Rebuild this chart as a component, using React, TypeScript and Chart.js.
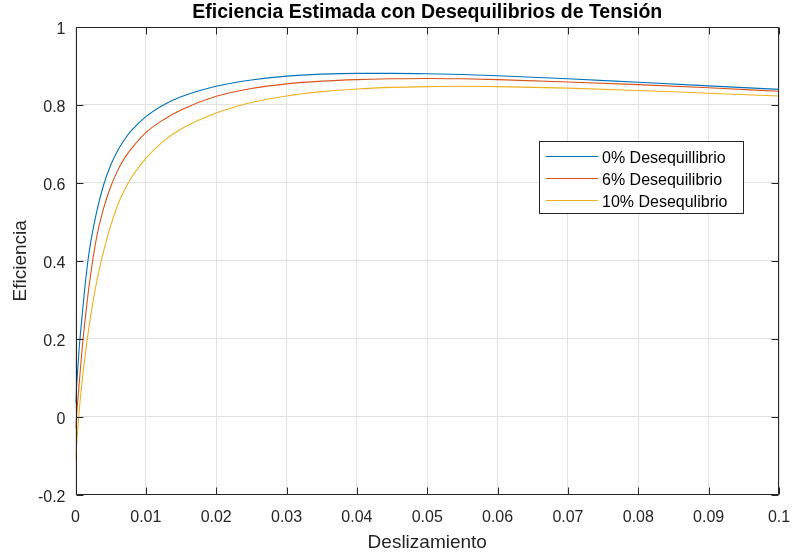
import React, { useEffect, useRef } from "react";
import { Chart, registerables } from "chart.js";

Chart.register(...registerables);

// Slip values (shared by all three series)
const slip = [
  0, 0.0005, 0.001, 0.0015, 0.002, 0.003, 0.004, 0.005, 0.006, 0.007, 0.008,
  0.01, 0.0125, 0.015, 0.02, 0.025, 0.03, 0.035, 0.04, 0.045, 0.05, 0.055,
  0.06, 0.07, 0.08, 0.09, 0.1,
];

// Efficiency for each level of voltage unbalance
const eff0 = [
  0.034, 0.17, 0.27, 0.36, 0.43, 0.525, 0.595, 0.645, 0.683, 0.712, 0.735,
  0.77, 0.8, 0.821, 0.848, 0.864, 0.874, 0.879, 0.881, 0.881, 0.88, 0.878,
  0.875, 0.867, 0.858, 0.849, 0.84,
];
const eff6 = [
  -0.03, 0.08, 0.185, 0.27, 0.345, 0.46, 0.535, 0.59, 0.632, 0.664, 0.689,
  0.729, 0.762, 0.787, 0.822, 0.842, 0.854, 0.861, 0.865, 0.867, 0.868, 0.867,
  0.865, 0.859, 0.852, 0.844, 0.835,
];
const eff10 = [
  -0.11, 0.01, 0.1, 0.175, 0.24, 0.345, 0.425, 0.49, 0.543, 0.583, 0.615,
  0.663, 0.707, 0.738, 0.779, 0.806, 0.823, 0.834, 0.841, 0.845, 0.847, 0.848,
  0.847, 0.843, 0.837, 0.83, 0.823,
];

const seriesNames = ["0% Desequillibrio", "6% Desequilibrio", "10% Desequlibrio"];
const seriesColors = ["#0072BD", "#D95319", "#EDB120"];

const xTickLabels = ["0", "0.01", "0.02", "0.03", "0.04", "0.05", "0.06", "0.07", "0.08", "0.09", "0.1"];
const yTickLabels = ["-0.2", "0", "0.2", "0.4", "0.6", "0.8", "1"];

const titleText = "Eficiencia Estimada con Desequilibrios de Tensión";
const xTitle = "Deslizamiento";
const yTitle = "Eficiencia";

const FONT = "'Liberation Sans', Arial, Helvetica, sans-serif";
const INK = "#262626";
const TICK_FONT = 16;
const LABEL_FONT = 19;
const TITLE_FONT = 19.5;
const LEGEND_FONT = 16;
const TICK_LEN = 7;

const axesPlugin = {
  id: "axesDecor",
  afterDraw(chart: any) {
    const ctx = chart.ctx as CanvasRenderingContext2D;
    const { left, right, top, bottom } = chart.chartArea;
    const xs = chart.scales.x;
    const ys = chart.scales.y;
    ctx.save();

    // box and inward ticks
    ctx.strokeStyle = INK;
    ctx.lineWidth = 1;
    const L = Math.round(left) + 0.5;
    const R = Math.round(right) - 0.5;
    const T = Math.round(top) + 0.5;
    const B = Math.round(bottom) - 0.5;
    ctx.beginPath();
    ctx.rect(L, T, R - L, B - T);
    ctx.stroke();
    ctx.beginPath();
    xs.ticks.forEach((t: any) => {
      const px = Math.round(xs.getPixelForValue(t.value)) + 0.5;
      ctx.moveTo(px, B);
      ctx.lineTo(px, B - TICK_LEN);
      ctx.moveTo(px, T);
      ctx.lineTo(px, T + TICK_LEN);
    });
    ys.ticks.forEach((t: any) => {
      const py = Math.round(ys.getPixelForValue(t.value)) + 0.5;
      ctx.moveTo(L, py);
      ctx.lineTo(L + TICK_LEN, py);
      ctx.moveTo(R, py);
      ctx.lineTo(R - TICK_LEN, py);
    });
    ctx.stroke();

    // tick labels
    ctx.fillStyle = INK;
    ctx.font = `${TICK_FONT}px ${FONT}`;
    ctx.textBaseline = "alphabetic";
    ctx.textAlign = "center";
    xs.ticks.forEach((t: any, i: number) => {
      const px = xs.getPixelForValue(t.value);
      ctx.fillText(xTickLabels[i] ?? "", px, bottom + 27);
    });
    ctx.textAlign = "right";
    ys.ticks.forEach((t: any, i: number) => {
      const py = ys.getPixelForValue(t.value);
      ctx.fillText(yTickLabels[i] ?? "", left - 10, py + 7);
    });

    // axis titles
    ctx.font = `${LABEL_FONT}px ${FONT}`;
    ctx.textAlign = "center";
    ctx.fillText(xTitle, (left + right) / 2, 548);
    ctx.save();
    ctx.translate(26, (top + bottom) / 2);
    ctx.rotate(-Math.PI / 2);
    ctx.fillText(yTitle, 0, 0);
    ctx.restore();

    // title
    ctx.font = `bold ${TITLE_FONT}px ${FONT}`;
    ctx.fillStyle = "#000000";
    ctx.fillText(titleText, (left + right) / 2, 18);

    // legend
    const bx = 539.5, by = 141.5, bw = 204, bh = 72;
    ctx.fillStyle = "#ffffff";
    ctx.fillRect(bx, by, bw, bh);
    ctx.strokeStyle = INK;
    ctx.strokeRect(bx, by, bw, bh);
    ctx.font = `${LEGEND_FONT}px ${FONT}`;
    ctx.textAlign = "left";
    const rows = [156.5, 178.5, 200.5];
    chart.data.datasets.forEach((ds: any, i: number) => {
      ctx.strokeStyle = ds.borderColor;
      ctx.beginPath();
      ctx.moveTo(546, rows[i]);
      ctx.lineTo(598, rows[i]);
      ctx.stroke();
      ctx.fillStyle = "#000000";
      ctx.fillText(ds.label, 602, rows[i] + 6);
    });

    ctx.restore();
  },
};

export default function App() {
  const canvasRef = useRef<HTMLCanvasElement | null>(null);

  useEffect(() => {
    document.body.style.margin = "0";
    const canvas = canvasRef.current;
    if (!canvas) return;
    const series = [eff0, eff6, eff10];
    const chart = new Chart(canvas, {
      type: "line",
      data: {
        datasets: series.map((vals, i) => ({
          label: seriesNames[i],
          data: slip.map((s, j) => ({ x: s, y: vals[j] })),
          borderColor: seriesColors[i],
          backgroundColor: seriesColors[i],
          borderWidth: 1.1,
          pointRadius: 0,
          cubicInterpolationMode: "monotone" as const,
          fill: false,
        })),
      },
      options: {
        responsive: false,
        animation: false,
        events: [],
        layout: { padding: { left: 0, right: 13, top: 27, bottom: 0 } },
        plugins: {
          legend: { display: false },
          title: { display: false },
          tooltip: { enabled: false },
        },
        scales: {
          x: {
            type: "linear",
            min: 0,
            max: 0.1,
            ticks: { stepSize: 0.01, display: false },
            grid: { color: "#e3e3e3", drawTicks: false, lineWidth: 1 },
            border: { display: false },
            afterFit(scale: any) {
              scale.height = 59.5;
            },
          },
          y: {
            type: "linear",
            min: -0.2,
            max: 1,
            ticks: { stepSize: 0.2, display: false },
            grid: { color: "#e3e3e3", drawTicks: false, lineWidth: 1 },
            border: { display: false },
            afterFit(scale: any) {
              scale.width = 75.5;
            },
          },
        },
      },
      plugins: [axesPlugin],
    });
    return () => chart.destroy();
  }, []);

  return (
    <div style={{ width: 792, height: 554, background: "#ffffff" }}>
      <canvas ref={canvasRef} width={792} height={554} />
    </div>
  );
}
